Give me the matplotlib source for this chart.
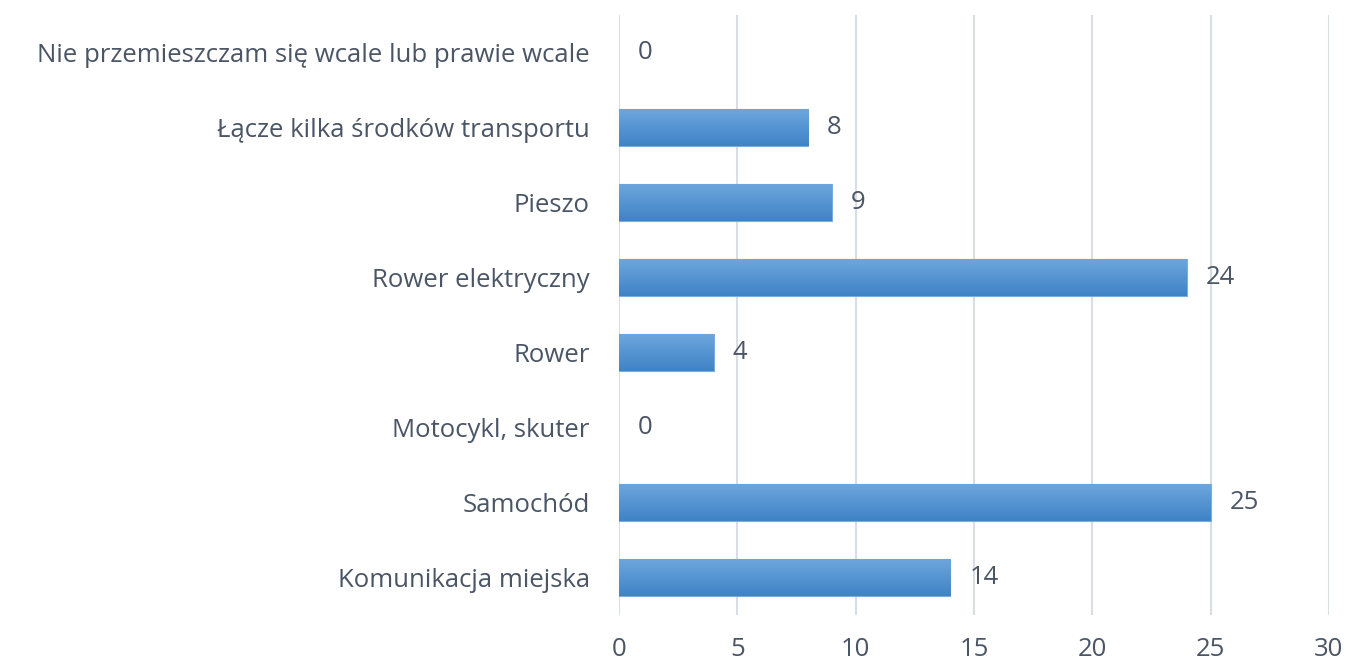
import numpy as np
import matplotlib.pyplot as plt
from matplotlib.colors import LinearSegmentedColormap

# dane z wykresu (od dołu do góry)
kategorie = ['Komunikacja miejska', 'Samochód', 'Motocykl, skuter', 'Rower',
             'Rower elektryczny', 'Pieszo', 'Łącze kilka środków transportu',
             'Nie przemieszczam się wcale lub prawie wcale']
wartosci = [14, 25, 0, 4, 24, 9, 8, 0]
ticki_x = [0, 5, 10, 15, 20, 25, 30]

kolor_tekstu = '#4a5565'
plt.rcParams['font.family'] = ['Open Sans', 'DejaVu Sans']
rozmiar = 18.5

fig = plt.figure(figsize=(13.5, 6.63), dpi=100)
ax = fig.add_axes([0.4585, 0.0724, 0.5259, 0.9046])

y = np.arange(len(kategorie))
bary = ax.barh(y, wartosci, height=0.5, color='#5b9bd5', edgecolor='#7aaee0',
               linewidth=0.8, zorder=2)

# gradient na słupkach
cmap = LinearSegmentedColormap.from_list('g', ['#3f83c6', '#6ea7de'])
grad = np.linspace(0, 1, 64).reshape(-1, 1)
for b in bary:
    if b.get_width() <= 0:
        b.set_visible(False)
        continue
    x0, y0 = b.get_x(), b.get_y()
    im = ax.imshow(grad, cmap=cmap, aspect='auto', origin='lower',
                   extent=[x0, x0 + b.get_width(), y0, y0 + b.get_height()],
                   zorder=2.5)
    im.set_clip_path(b)

for yi, v in zip(y, wartosci):
    ax.text(v + 0.8, yi, str(v), va='center', ha='left', fontsize=rozmiar,
            color=kolor_tekstu)

ax.set_xlim(0, 30)
ax.set_ylim(-0.5, len(kategorie) - 0.5)
ax.set_xticks(ticki_x)
ax.set_yticks(y)
ax.set_yticklabels(kategorie)
ax.grid(axis='x', color='#d9dde4', linewidth=1.5, zorder=0)
ax.set_axisbelow(True)
for s in ax.spines.values():
    s.set_visible(False)
ax.tick_params(axis='both', length=0, labelsize=rozmiar, colors=kolor_tekstu)
ax.tick_params(axis='x', pad=16)
ax.tick_params(axis='y', pad=21)

fig.savefig('out.png', dpi=100)
